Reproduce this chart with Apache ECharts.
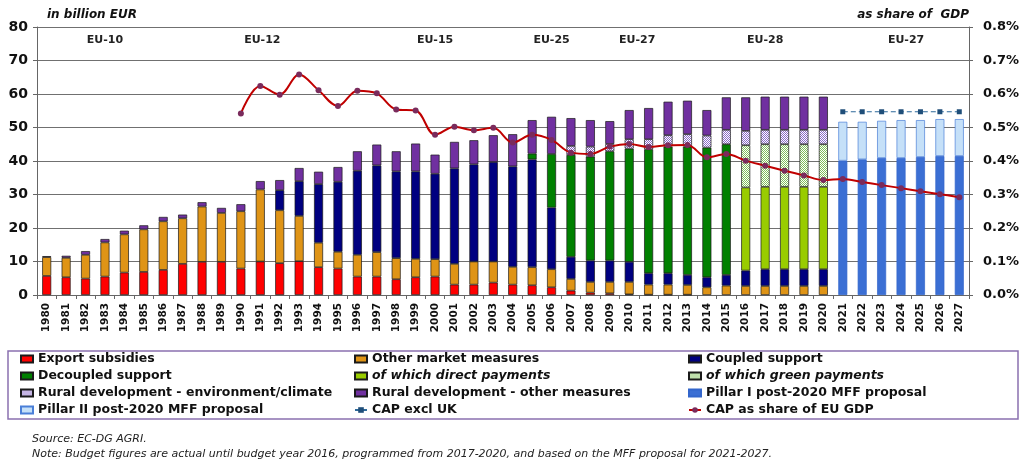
<!DOCTYPE html>
<html><head><meta charset="utf-8">
<script src="https://cdn.jsdelivr.net/npm/echarts@6/dist/echarts.min.js"></script>
<style>html,body{margin:0;padding:0;background:#fff}#c{width:1024px;height:463px}</style>
</head><body><div id="c"></div>
<script>
const years = ['1980','1981','1982','1983','1984','1985','1986','1987','1988','1989','1990','1991','1992','1993','1994','1995','1996','1997','1998','1999','2000','2001','2002','2003','2004','2005','2006','2007','2008','2009','2010','2011','2012','2013','2014','2015','2016','2017','2018','2019','2020','2021','2022','2023','2024','2025','2026','2027'];
const _ = null;
const exportSubsidies = [5.7,5.3,4.9,5.5,6.7,6.9,7.5,9.3,9.9,9.9,7.9,10.0,9.5,10.1,8.3,7.9,5.5,5.5,4.7,5.3,5.5,3.1,3.1,3.7,3.1,2.9,2.3,1.3,0.7,0.5,0.2,0.1,0.1,0.1,_,_,_,_,_,_,_,_,_,_,_,_,_,_];
const otherMarket = [5.6,5.8,7.1,10.2,11.4,12.7,14.5,13.6,16.5,14.6,17.1,21.5,15.8,13.5,7.3,5.0,6.5,7.3,6.3,5.5,5.2,6.2,6.9,6.3,5.3,5.4,5.4,3.5,3.2,3.4,3.7,3.0,3.0,2.9,2.3,2.8,2.7,2.7,2.7,2.7,2.7,_,_,_,_,_,_,_];
const coupled = [_,_,_,_,_,_,_,_,_,_,_,_,6.0,10.4,17.5,20.9,25.1,25.9,25.9,26.1,25.5,28.5,29.0,29.7,30.0,32.2,18.4,6.6,6.4,6.4,6.0,3.4,3.4,3.0,3.0,3.2,4.6,5.0,5.0,5.0,5.0,_,_,_,_,_,_,_];
const decoupled = [_,_,_,_,_,_,_,_,_,_,_,_,_,_,_,_,_,_,_,_,_,_,_,_,_,1.7,16.0,30.4,31.0,32.6,33.8,37.0,37.8,38.3,38.7,39.0,_,_,_,_,_,_,_,_,_,_,_,_];
const directPayments = [_,_,_,_,_,_,_,_,_,_,_,_,_,_,_,_,_,_,_,_,_,_,_,_,_,_,_,_,_,_,_,_,_,_,_,_,24.8,24.6,24.6,24.6,24.6,_,_,_,_,_,_,_];
const greenPayments = [_,_,_,_,_,_,_,_,_,_,_,_,_,_,_,_,_,_,_,_,_,_,_,_,_,_,_,_,_,_,_,_,_,_,_,_,12.6,12.7,12.7,12.7,12.7,_,_,_,_,_,_,_];
const rdEnv = [_,_,_,_,_,_,_,_,_,_,_,_,_,_,_,_,_,_,_,_,_,_,_,_,_,_,_,2.7,3.0,2.2,2.8,3.0,3.4,3.7,3.6,4.3,4.3,4.3,4.3,4.3,4.3,_,_,_,_,_,_,_];
const rdOther = [0.3,0.6,1.1,1.0,1.1,1.2,1.3,1.1,1.3,1.5,2.1,2.5,3.0,3.9,3.7,4.4,5.8,6.2,6.0,8.3,5.7,7.9,7.2,8.0,9.6,10.0,11.1,8.3,7.9,6.8,8.7,9.3,10.0,10.0,7.6,9.7,10.0,9.9,9.9,9.9,9.9,_,_,_,_,_,_,_];
const pillar1 = [_,_,_,_,_,_,_,_,_,_,_,_,_,_,_,_,_,_,_,_,_,_,_,_,_,_,_,_,_,_,_,_,_,_,_,_,_,_,_,_,_,40.1,40.5,40.9,40.9,41.2,41.5,41.5];
const pillar2 = [_,_,_,_,_,_,_,_,_,_,_,_,_,_,_,_,_,_,_,_,_,_,_,_,_,_,_,_,_,_,_,_,_,_,_,_,_,_,_,_,_,11.6,11.2,11.1,11.3,11.0,11.0,11.0];
const capExclUK = [_,_,_,_,_,_,_,_,_,_,_,_,_,_,_,_,_,_,_,_,_,_,_,_,_,_,_,_,_,_,_,_,_,_,_,_,_,_,_,_,_,54.7,54.7,54.7,54.7,54.7,54.7,54.7];
const capShareGDP = [_,_,_,_,_,_,_,_,_,_,0.542,0.624,0.598,0.658,0.611,0.564,0.610,0.602,0.554,0.551,0.478,0.502,0.492,0.499,0.455,0.478,0.463,0.425,0.421,0.443,0.451,0.442,0.447,0.448,0.411,0.421,0.401,0.386,0.371,0.357,0.343,0.346,0.337,0.328,0.319,0.310,0.301,0.292];
const eraLabels = ['EU-10','EU-12','EU-15','EU-25','EU-27','EU-28','EU-27'];
const eraYears = ['1983','1991','2000','2006','2010','2017','2024'];
const eraOffsets = [0,2,0,0,8,0,5];
const eraLevel = 76.1;
const leftTicks = {min:0,max:80,interval:10};
const rightTicks = {min:0,max:0.8,interval:0.1};

function checker(fg, bg){
  const c=document.createElement('canvas'); c.width=4; c.height=4;
  const g=c.getContext('2d'); g.fillStyle=bg; g.fillRect(0,0,4,4); g.fillStyle=fg;
  for(let x=0;x<4;x++)for(let y=0;y<4;y++){ if((x+y)%2===0) g.fillRect(x,y,1,1);} 
  return {image:c, repeat:'repeat'};
}
const FONT='DejaVu Sans';
const bw = 9;
function bar(name, data, color, border){
  return {name, type:'bar', stack:'tot', data, barWidth:bw,
    itemStyle:{color, borderColor:border||'#1a1a1a', borderWidth:0.7}};
}
const series = [
  bar('Export subsidies', exportSubsidies, '#ff0000'),
  bar('Other market measures', otherMarket, '#df9416'),
  bar('Coupled support', coupled, '#000080'),
  bar('Decoupled support', decoupled, '#008000'),
  bar('of which direct payments', directPayments, '#99cc00'),
  bar('of which green payments', greenPayments, checker('#7fbf5a','#ffffff')),
  bar('Rural development - environment/climate', rdEnv, checker('#8a6ac8','#ffffff')),
  bar('Rural development - other measures', rdOther, '#7030a0'),
  bar('Pillar I post-2020 MFF proposal', pillar1, '#3b6fd4', '#3366cc'),
  bar('Pillar II post-2020 MFF proposal', pillar2, '#c5e0f8', '#4a7fd8'),
  {name:'CAP excl UK', type:'line', data:capExclUK, symbol:'rect', symbolSize:5,
   lineStyle:{color:'#2e6a9a', width:1.2, type:[5,3]}, itemStyle:{color:'#1f4e79'}},
  {name:'CAP as share of EU GDP', type:'line', yAxisIndex:1, data:capShareGDP, smooth:0.35,
   symbol:'circle', symbolSize:6, lineStyle:{color:'#c00000', width:2}, itemStyle:{color:'#7a2b5c'}, z:5}
];
const lineNames = ['CAP excl UK','CAP as share of EU GDP'];
series[0].markPoint = {symbol:'circle', symbolSize:0,
  data: eraLabels.map((t,i)=>({coord:[eraYears[i], eraLevel], value:t,
    label:{show:true, formatter:t, offset:[eraOffsets[i],0], color:'#222', fontFamily:FONT, fontWeight:'bold', fontSize:11}})),
  label:{show:true}};

const legText = {fontFamily:FONT, fontWeight:'bold', fontSize:12.5, color:'#111', lineHeight:14,
  rich:{i:{fontFamily:FONT, fontWeight:'bold', fontStyle:'italic', fontSize:12.5, color:'#111'}}};
function leg(left, names){
  return {orient:'vertical', left, top:352, itemWidth:12, itemHeight:7, itemGap:3, padding:0,
    data:names.map(n => lineNames.includes(n) ? {name:n} : {name:n, icon:'rect'}),
    textStyle:legText, selectedMode:false,
    formatter: n => n.startsWith('of which') ? '{i|'+n+'}' : n};
}
const chart = echarts.init(document.getElementById('c'), null, {renderer:'canvas'});
chart.setOption({
  animation:false,
  grid:{left:37, right:55, top:27, bottom:168, containLabel:false},
  xAxis:{type:'category', data:years,
    axisLine:{lineStyle:{color:'#666'}}, axisTick:{show:true, length:4, lineStyle:{color:'#666'}},
    axisLabel:{rotate:90, margin:8, fontFamily:FONT, fontWeight:'bold', fontSize:10.5, color:'#111', interval:0}},
  yAxis:[
    {type:'value', ...leftTicks, name:'in billion EUR', nameLocation:'end', nameGap:6,
     nameTextStyle:{fontFamily:FONT, fontWeight:'bold', fontStyle:'italic', fontSize:12, color:'#111', align:'left', padding:[0,0,0,10]},
     axisLine:{show:true, lineStyle:{color:'#666'}}, axisTick:{show:true, length:4, lineStyle:{color:'#666'}},
     splitLine:{lineStyle:{color:'#707070', width:1}},
     axisLabel:{fontFamily:FONT, fontWeight:'bold', fontSize:14, color:'#111', margin:9}},
    {type:'value', ...rightTicks, position:'right', name:'as share of  GDP', nameLocation:'end', nameGap:6,
     nameTextStyle:{fontFamily:FONT, fontWeight:'bold', fontStyle:'italic', fontSize:12, color:'#111', align:'right', padding:[0,0,0,0]},
     axisLine:{show:true, lineStyle:{color:'#666'}}, axisTick:{show:true, length:4, lineStyle:{color:'#666'}},
     splitLine:{show:false},
     axisLabel:{fontFamily:FONT, fontWeight:'bold', fontSize:13, color:'#111', margin:14, formatter:v=>v.toFixed(1)+'%'}}
  ],
  legend:[
    leg(20, ['Export subsidies','Decoupled support','Rural development - environment/climate','Pillar II post-2020 MFF proposal']),
    leg(354, ['Other market measures','of which direct payments','Rural development - other measures','CAP excl UK']),
    leg(688, ['Coupled support','of which green payments','Pillar I post-2020 MFF proposal','CAP as share of EU GDP'])
  ],
  graphic:[
    {type:'rect', shape:{x:8, y:351, width:1010, height:68}, style:{fill:null, stroke:'#8a70b0', lineWidth:1.5}, silent:true},
    {type:'text', left:32, top:434, style:{text:'Source: EC-DG AGRI.', font:'italic 11px "DejaVu Sans"', fill:'#222'}},
    {type:'text', left:32, top:449, style:{text:'Note: Budget figures are actual until budget year 2016, programmed from 2017-2020, and based on the MFF proposal for 2021-2027.', font:'italic 11px "DejaVu Sans"', fill:'#222'}}
  ],
  series
});
</script></body></html>
